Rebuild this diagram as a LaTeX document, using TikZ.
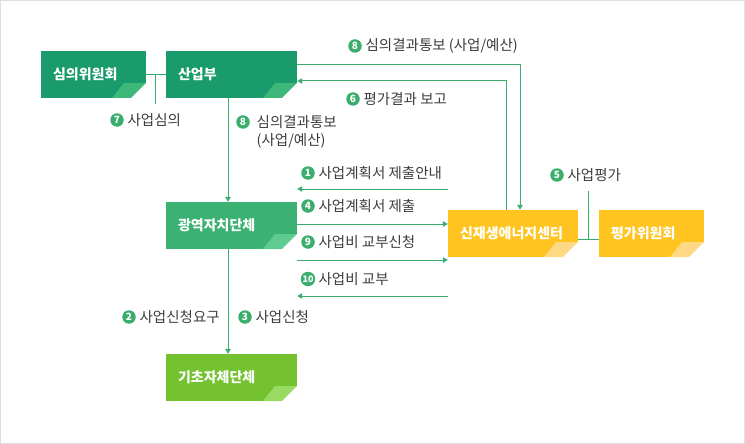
\documentclass[tikz,border=0pt]{standalone}
\usepackage{fontspec}
\setmainfont{Noto Sans CJK KR}
\usepackage{xcolor}
\usepackage{tikz}
\usetikzlibrary{calc,arrows.meta,positioning}
\definecolor{deepg}{HTML}{1A9B6C}
\definecolor{deepgl}{HTML}{3DB879}
\definecolor{midg}{HTML}{3BB273}
\definecolor{midgl}{HTML}{5FCB91}
\definecolor{limeg}{HTML}{74C22F}
\definecolor{limegl}{HTML}{9AD962}
\definecolor{sunc}{HTML}{FFC41F}
\definecolor{suncl}{HTML}{FCD982}
\definecolor{linec}{HTML}{3BAE6E}
\definecolor{txtc}{HTML}{3C3C3C}
\tikzset{
  box/.style={fill=#1,text=white,font=\bfseries\fontsize{14}{16}\selectfont,minimum height=47pt,inner xsep=12pt,inner ysep=0pt,align=left},
  fold/.style={path picture={
    \coordinate (se) at (path picture bounding box.south east);
    \fill[#1] ($(se)+(-22pt,15pt)$) -- ($(se)+(0pt,15pt)$) -- ($(se)+(-15pt,0pt)$) -- ($(se)+(-34pt,0pt)$) -- cycle;
    \fill[white] ($(se)+(0pt,15pt)$) -- (se) -- ($(se)+(-15pt,0pt)$) -- cycle;}},
  ln/.style={line width=1pt,linec},
  ar/.style={-{Triangle[length=5pt,width=5.5pt]},line width=1pt,linec},
  num/.style={circle,fill=linec,text=white,inner sep=0pt,minimum size=13.5pt,font=\bfseries\fontsize{10}{10}\selectfont},
  lbl/.style={text=txtc,inner xsep=0pt,font=\fontsize{14.5}{18}\selectfont,align=left}
}
\begin{document}
\begin{tikzpicture}[x=1pt,y=-1pt]
\useasboundingbox (0,0) rectangle (745,444);
\draw[gray!25] (0.5,0.5) rectangle (744.5,443.5);
% boxes
\node[box=deepg,fold=deepgl,text width=81pt] (simui) at (93.5,74.5) {심의위원회};
\node[box=deepg,fold=deepgl,text width=107pt] (sanup) at (231.5,74.5) {산업부};
\node[box=midg,fold=midgl,text width=107pt] (gwang) at (231.5,225.5) {광역자치단체};
\node[box=limeg,fold=limegl,text width=107pt] (gicho) at (231.5,377.5) {기초자체단체};
\node[box=sunc,fold=suncl,text width=106pt] (center) at (513,233.5) {신재생에너지센터};
\node[box=sunc,fold=suncl,text width=81pt] (pyeong) at (651.5,233.5) {평가위원회};
% connectors
\coordinate (c7) at (155,104);
\draw[ln] (simui.east) -- (sanup.west);
\draw[ln] (c7) |- (simui.east);
\draw[ar] ([yshift=9.5pt]sanup.east) -| ([xshift=7pt]center.north);
\draw[ar] ([xshift=-7pt]center.north) |- ([yshift=-6.5pt]sanup.east);
\draw[ar] ([xshift=-3.5pt]sanup.south) -- ([xshift=-3.5pt]gwang.north);
\draw[ar] ([xshift=-3.5pt]gwang.south) -- ([xshift=-3.5pt]gicho.north);
\draw[ar] (center.west |- 0,189) -- (gwang.east |- 0,189);
\draw[ar] (gwang.east |- 0,224) -- (center.west |- 0,224);
\draw[ar] (gwang.east |- 0,260) -- (center.west |- 0,260);
\draw[ar] (center.west |- 0,296) -- (gwang.east |- 0,296);
\coordinate (c5) at (588,191);
\draw[ln] (center.east |- 0,239) -- (pyeong.west |- 0,239);
\draw[ln] (c5) -- (c5 |- 0,239);
% labels
\node[num] (n8a) at (355,46) {8};
\node[lbl,right=3.5pt of n8a] (t8a) {심의결과통보 (사업/예산)};
\node[num] (n6) at (353,99) {6};
\node[lbl,right=3.5pt of n6] (t6) {평가결과 보고};
\node[num] (n7) at (117,120) {7};
\node[lbl,right=3.5pt of n7] (t7) {사업심의};
\node[num] (n8b) at (243,122) {8};
\node[lbl,anchor=north west] (t8b) at (256.5,112) {심의결과통보\\(사업/예산)};
\node[num] (n1) at (308,173) {1};
\node[lbl,right=3.5pt of n1] (t1) {사업계획서 제출안내};
\node[num] (n4) at (308,206) {4};
\node[lbl,right=3.5pt of n4] (t4) {사업계획서 제출};
\node[num] (n9) at (308,242) {9};
\node[lbl,right=3.5pt of n9] (t9) {사업비 교부신청};
\node[num,minimum size=14.5pt,font=\bfseries\fontsize{9}{9}\selectfont] (n10) at (308,279) {10};
\node[lbl,right=3pt of n10] (t10) {사업비 교부};
\node[num] (n5) at (557,175) {5};
\node[lbl,right=3.5pt of n5] (t5) {사업평가};
\node[num] (n2) at (129,317) {2};
\node[lbl,right=3.5pt of n2] (t2) {사업신청요구};
\node[num] (n3) at (245,317) {3};
\node[lbl,right=3.5pt of n3] (t3) {사업신청};
\end{tikzpicture}
\end{document}
